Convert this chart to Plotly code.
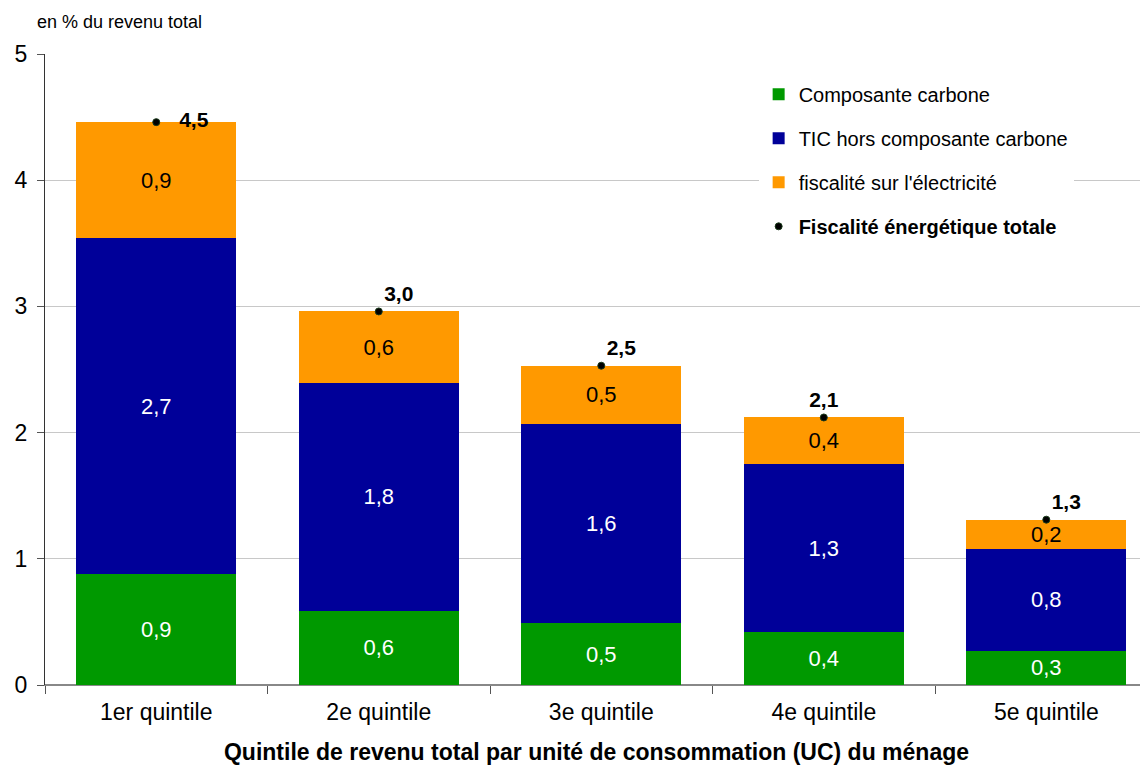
import plotly.graph_objects as go

# Data (share of total income, %)
quintiles = ["1er quintile", "2e quintile", "3e quintile", "4e quintile", "5e quintile"]
carbone = [0.88, 0.59, 0.49, 0.42, 0.27]
tic_hors_carbone = [2.66, 1.80, 1.58, 1.33, 0.81]
electricite = [0.92, 0.57, 0.46, 0.37, 0.23]
total = [4.46, 2.96, 2.53, 2.12, 1.31]
total_label_pos = ["middle right", "top right", "top right", "top center", "top right"]

FONT = "Liberation Sans, Arial, sans-serif"

fig = go.Figure()

fig.add_trace(go.Bar(
    x=quintiles, y=carbone, name="Composante carbone",
    marker=dict(color="#009900", line=dict(width=0)),
    texttemplate="%{y:.1f}", textposition="inside", insidetextanchor="middle",
    textfont=dict(color="white", size=22), constraintext="none",
    legendgroup="a",
))
fig.add_trace(go.Bar(
    x=quintiles, y=tic_hors_carbone, name="TIC hors composante carbone",
    marker=dict(color="#000099", line=dict(width=0)),
    texttemplate="%{y:.1f}", textposition="inside", insidetextanchor="middle",
    textfont=dict(color="white", size=22), constraintext="none",
    legendgroup="b",
))
fig.add_trace(go.Bar(
    x=quintiles, y=electricite, name="fiscalité sur l'électricité",
    marker=dict(color="#FF9900", line=dict(width=0)),
    texttemplate="%{y:.1f}", textposition="inside", insidetextanchor="middle",
    textfont=dict(color="black", size=22), constraintext="none",
    legendgroup="c",
))

# Total energy taxation as dots with bold labels
fig.add_trace(go.Scatter(
    x=quintiles, y=total, mode="markers+text",
    name="<b>Fiscalité énergétique totale</b>",
    marker=dict(color="black", size=7, line=dict(color="#1a3a1a", width=1)),
    texttemplate=["\u00a0\u00a0\u00a0<b>%{y:.1f}</b>"] + ["<b>%{y:.1f}</b>"] * 4,
    textposition=total_label_pos,
    textfont=dict(color="black", size=21),
    legendgroup="d",
))

# the page body adds an 8px offset, so the figure is sized to end at the window edge
fig.update_layout(
    width=1140, height=757,
    barmode="stack", bargap=0.28,
    separators=", ",
    plot_bgcolor="white", paper_bgcolor="white",
    font=dict(family=FONT, color="black", size=20),
    margin=dict(l=37, r=0, t=46, b=80),
    legend=dict(
        x=0.647, y=0.967, xanchor="left", yanchor="top",
        bgcolor="white", traceorder="grouped", tracegroupgap=15,
        font=dict(size=20), itemwidth=30,
    ),
    xaxis=dict(
        range=[-0.5, 4.457],
        showline=True, linecolor="#888888", linewidth=1,
        ticks="outside", tickson="boundaries", ticklen=8, tickcolor="#555555",
        tickfont=dict(size=23, color="black"), ticklabelstandoff=6,
        title=dict(text="<b>Quintile de revenu total par unité de consommation (UC) du ménage</b>",
                   font=dict(size=23, color="black"), standoff=20),
    ),
    yaxis=dict(
        range=[0, 5], dtick=1, tickformat="d",
        showgrid=True, gridcolor="#c8c8c8", gridwidth=1,
        zeroline=True, zerolinecolor="#888888",
        showline=True, linecolor="#333333", linewidth=1,
        ticks="outside", ticklen=7, tickcolor="#555555",
        tickfont=dict(size=23, color="black"), ticklabelstandoff=5,
    ),
    annotations=[dict(
        text="en % du revenu total", xref="paper", yref="paper",
        x=-0.009, y=1.05, xanchor="left", yanchor="middle",
        showarrow=False, font=dict(size=18, color="black"),
    )],
)

fig.write_html("out.html")
